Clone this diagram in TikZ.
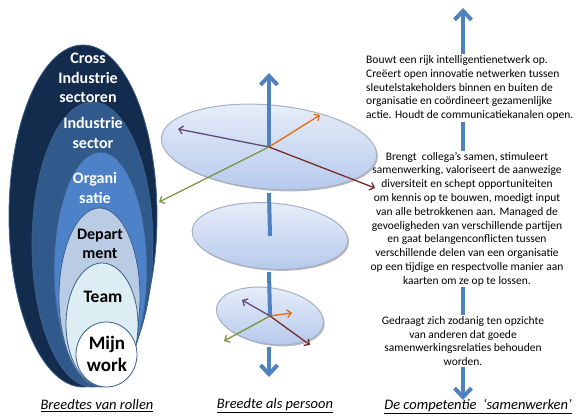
\documentclass[tikz,border=0pt]{standalone}
\usepackage{fontspec}
\setmainfont{Carlito}
\usetikzlibrary{shapes.geometric,arrows.meta,positioning,shadows}

\definecolor{ringA}{HTML}{132B4C}
\definecolor{ringB}{HTML}{30598C}
\definecolor{ringC}{HTML}{4D82C8}
\definecolor{ringD}{HTML}{B9CCE4}
\definecolor{ringE}{HTML}{DCEEF4}
\definecolor{ringline}{HTML}{3C5F8C}
\definecolor{axisblue}{HTML}{4F81BD}
\definecolor{disctop}{HTML}{E9EFFA}
\definecolor{discbot}{HTML}{B7CAEC}
\definecolor{discline}{HTML}{A4B0C6}
\definecolor{purp}{HTML}{5F497A}
\definecolor{oran}{HTML}{E46C0A}
\definecolor{brwn}{HTML}{772C2A}
\definecolor{gren}{HTML}{77933C}

\begin{document}
\begin{tikzpicture}[x=1pt,y=-1pt,>={Straight Barb[length=4pt,width=8pt]},
  layer/.style={ellipse,draw=ringline,line width=0.8pt,inner sep=0pt},
  ringtext/.style={align=center,inner sep=0pt,font=\fontsize{16}{19.5}\selectfont\bfseries},
  disc/.style={ellipse,inner sep=0pt,draw=discline,line width=1pt,
    top color=disctop,bottom color=discbot,
    drop shadow={shadow xshift=1.2pt,shadow yshift=-1.5pt,fill=black!45,opacity=0.6}},
  axis/.style={line width=4pt,axisblue},
  axishead/.style={axis,-{Straight Barb[length=9pt,width=17pt]}},
  dir/.style={->,line width=1.3pt},
  prose/.style={fill=white,inner sep=1pt,font=\fontsize{11.5}{13.8}\selectfont},
  caption/.style={inner sep=0pt,font=\fontsize{14.5}{17}\selectfont\itshape}]

  \useasboundingbox (0,0) rectangle (576,419);

  % right column: arrow behind the texts
  \coordinate (CompTop) at (463,8);
  \coordinate (CompBot) at (463,400);
  \draw[axis,{Straight Barb[length=9pt,width=17pt]}-{Straight Barb[length=9pt,width=17pt]}] (CompBot) -- (CompTop);

  \node[prose,anchor=west,align=left] (Netwerk) at (365,88)
    {Bouwt een rijk intelligentienetwerk op.\\
     Creëert open innovatie netwerken tussen\\
     sleutelstakeholders binnen en buiten de\\
     organisatie en coördineert gezamenlijke\\
     actie. Houdt de communicatiekanalen open.};
  \node[prose,align=center] (Samen) at (467,219)
    {Brengt\ \ collega’s samen, stimuleert\\
     samenwerking, valoriseert de aanwezige\\
     diversiteit en schept opportuniteiten\\
     om kennis op te bouwen, moedigt input\\
     van alle betrokkenen aan. Managed de\\
     gevoeligheden van verschillende partijen\\
     en gaat belangenconflicten tussen\\
     verschillende delen van een organisatie\\
     op een tijdige en respectvolle manier aan\\
     kaarten om ze op te lossen.};
  \node[prose,align=center] (Relaties) at (463,341)
    {Gedraagt zich zodanig ten opzichte\\
     van anderen dat goede\\
     samenwerkingsrelaties behouden\\
     worden.};

  % left column: nested roles
  \node[layer,fill=ringA,minimum width=148,minimum height=342] (CrossSector) at (83,216) {};
  \node[layer,fill=ringB,minimum width=121,minimum height=285] (IndSector) at (92.5,244.5) {};
  \node[layer,fill=ringC,minimum width=93,minimum height=235] (Organisatie) at (100.5,269.5) {};
  \node[layer,fill=ringD,minimum width=81,minimum height=178] (Department) at (99.5,297) {};
  \node[layer,fill=ringE,minimum width=72,minimum height=123] (Team) at (102,324.5) {};
  \node[layer,fill=white,minimum width=61,minimum height=65] (MijnWork) at (106.5,354.5) {};

  \node[ringtext,text=white] (CrossText) at (88,78) {Cross\\Industrie\\sectoren};
  \node[ringtext,text=white] (IndText) at (93,133) {Industrie\\sector};
  \node[ringtext,text=white] (OrgText) at (95,188) {Organi\\satie};
  \node[ringtext] (DepText) at (100,244) {Depart\\ment};
  \node[ringtext,font=\fontsize{17.5}{20}\selectfont\bfseries] (TeamText) at (103,297) {Team};
  \node[ringtext,font=\fontsize{19}{22}\selectfont\bfseries] (WorkText) at (107,354) {Mijn\\work};

  % middle column: discs and axes
  \node[disc,minimum width=216,minimum height=84,rotate=-5] (DiscTop) at (269,147) {};
  \node[disc,minimum width=156,minimum height=66,rotate=-4] (DiscMid) at (270,236) {};
  \node[disc,minimum width=108,minimum height=56,rotate=-9] (DiscLow) at (270,316) {};

  \coordinate (AxisTop) at (269,73);
  \coordinate (GapA) at (269,193);
  \coordinate (GapB) at (269,272);
  \coordinate (GapC) at (269,347);
  \coordinate (AxisBot) at (269,377);

  \draw[axishead] (DiscTop.center) -- (AxisTop);
  \draw[axis] (GapA) -- (DiscMid.center);
  \draw[axis] (GapB) -- (DiscLow.center);
  \draw[axishead] (GapC) -- (AxisBot);

  \coordinate (TopPurp) at (178,129);
  \coordinate (TopOran) at (320,115);
  \coordinate (TopBrwn) at (375,188);
  \coordinate (TopGren) at (159,202);
  \draw[dir,purp] (DiscTop.center) -- (TopPurp);
  \draw[dir,oran] (DiscTop.center) -- (TopOran);
  \draw[dir,brwn] (DiscTop.center) -- (TopBrwn);
  \draw[dir,gren] (DiscTop.center) -- (TopGren);

  \coordinate (LowPurp) at (242,300);
  \coordinate (LowOran) at (292,313);
  \coordinate (LowBrwn) at (310,345);
  \coordinate (LowGren) at (224,341);
  \draw[dir,purp] (DiscLow.center) -- (LowPurp);
  \draw[dir,oran] (DiscLow.center) -- (LowOran);
  \draw[dir,brwn] (DiscLow.center) -- (LowBrwn);
  \draw[dir,gren] (DiscLow.center) -- (LowGren);

  % captions
  \node[caption] (CapRollen) at (97,406) {\underline{Breedtes van rollen}};
  \node[caption] (CapPersoon) at (275,406) {\underline{Breedte als persoon}};
  \node[caption] (CapComp) at (478,406) {\underline{De competentie\ \ ‘samenwerken’}};

\end{tikzpicture}
\end{document}
